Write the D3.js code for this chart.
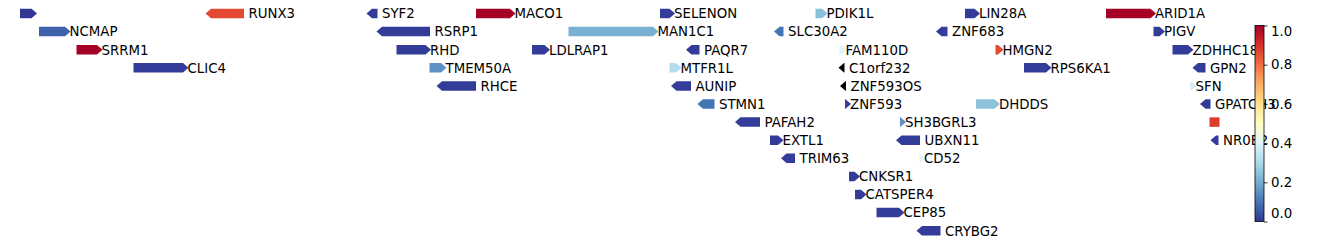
<!DOCTYPE html>
<html>
<head>
<meta charset="utf-8">
<script src="https://cdn.jsdelivr.net/npm/d3@7"></script>
<style>
  body { margin: 0; background: #fff; }
  svg { display: block; font-family: "DejaVu Sans", sans-serif; }
</style>
</head>
<body>
<div id="chart"></div>
<script>
// chr1 positions in kb, strand 1 = forward, -1 = reverse, 0 = none
const geneNames = [
  "", "RUNX3", "SYF2", "MACO1", "SELENON", "PDIK1L", "LIN28A", "ARID1A",
  "NCMAP", "RSRP1", "MAN1C1", "SLC30A2", "ZNF683", "PIGV",
  "SRRM1", "RHD", "LDLRAP1", "PAQR7", "FAM110D", "HMGN2", "ZDHHC18",
  "CLIC4", "TMEM50A", "MTFR1L", "C1orf232", "RPS6KA1", "GPN2",
  "RHCE", "AUNIP", "ZNF593OS", "SFN",
  "STMN1", "ZNF593", "DHDDS", "GPATCH3",
  "PAFAH2", "SH3BGRL3", "",
  "EXTL1", "UBXN11", "NR0B2",
  "TRIM63", "CD52",
  "CNKSR1", "CATSPER4", "CEP85", "CRYBG2"
];
const geneStarts = [
  24490, 24872, 25194, 25402, 25770, 26081, 26380, 26662,
  24528, 25214, 25587, 26009, 26333, 26757,
  24603, 25243, 25514, 25833, 26129, 26441, 26795,
  24717, 25309, 25789, 26138, 26498, 26846,
  25334, 25803, 26141, 26831,
  25856, 26140, 26402, 26861,
  25931, 26250, 26869,
  25990, 26253, 26882,
  26023, 26289,
  26148, 26160, 26203, 26294
];
const geneEnds = [
  24513, 24938, 25205, 25470, 25789, 26094, 26399, 26751,
  24580, 25310, 25756, 26017, 26345, 26769,
  24644, 25301, 25539, 25849, 26132, 26446, 26826,
  24816, 25332, 25802, 26139, 26542, 26861,
  25402, 25832, 26142, 26832,
  25879, 26141, 26439, 26871,
  25970, 26251, 26889,
  26006, 26290, 26887,
  26040, 26289,
  26159, 26172, 26248, 26331
];
const geneStrands = [
  1, -1, -1, 1, 1, 1, 1, 1,
  1, -1, 1, -1, -1, 1,
  1, 1, 1, -1, 1, 1, 1,
  1, 1, 1, -1, 1, -1,
  -1, -1, -1, 1,
  -1, 1, 1, -1,
  -1, 1, 0,
  1, -1, -1,
  -1, 1,
  1, 1, 1, -1
];
const geneRows = [
  0, 0, 0, 0, 0, 0, 0, 0,
  1, 1, 1, 1, 1, 1,
  2, 2, 2, 2, 2, 2, 2,
  3, 3, 3, 3, 3, 3,
  4, 4, 4, 4,
  5, 5, 5, 5,
  6, 6, 6,
  7, 7, 7,
  8, 8,
  9, 10, 11, 12
];
// null = no value (drawn black)
const geneValues = [
  0.0, 0.86, 0.01, 1.0, 0.01, 0.24, 0.01, 1.0,
  0.07, 0.01, 0.21, 0.1, 0.01, 0.01,
  1.0, 0.01, 0.01, 0.01, 0.4, 0.86, 0.01,
  0.01, 0.15, 0.31, null, 0.01, 0.01,
  0.01, 0.01, null, 0.37,
  0.1, 0.01, 0.25, 0.01,
  0.01, 0.15, 0.88,
  0.01, 0.01, 0.01,
  0.01, 0.4,
  0.01, 0.01, 0.01, 0.01
];
const cbarTicks = [0.0, 0.2, 0.4, 0.6, 0.8, 1.0];
const cmapColors = [
  "#313695", "#4575b4", "#74add1", "#abd9e9", "#e0f3f8", "#ffffbf",
  "#fee090", "#fdae61", "#f46d43", "#d73027", "#a50026"
];

const w = 1338;
const h = 246;
const head = 5.5;
const barH = 9.5;

const genes = geneNames.map((name, i) => ({
  name: name,
  start: geneStarts[i],
  end: geneEnds[i],
  strand: geneStrands[i],
  row: geneRows[i],
  value: geneValues[i]
}));

const x = d3.scaleLinear().domain([24450, 27126]).range([0, w]);
const y = d3.scaleLinear().domain([0, 12]).range([13.5, 230.7]);
const cmap = d3
  .scaleLinear()
  .domain(d3.range(cmapColors.length).map((i) => i / (cmapColors.length - 1)))
  .range(cmapColors)
  .clamp(true);
const color = (v) => (v === null ? "#000" : cmap(v));

const svg = d3
  .select("#chart")
  .append("svg")
  .attr("width", w)
  .attr("height", h);

const genePath = (d) => {
  const x0 = x(d.start);
  const x1 = x(d.end);
  const cy = y(d.row);
  const t = cy - barH / 2;
  const b = cy + barH / 2;
  let pts;
  if (d.strand === 1) {
    pts = [[x0, t], [x1, t], [x1 + head, cy], [x1, b], [x0, b]];
  } else if (d.strand === -1) {
    pts = [[x1, t], [x0, t], [x0 - head, cy], [x0, b], [x1, b]];
  } else {
    pts = [[x0, t], [x1, t], [x1, b], [x0, b]];
  }
  return "M" + pts.map((p) => p.join(",")).join("L") + "Z";
};

svg
  .selectAll("path.gene")
  .data(genes)
  .enter()
  .append("path")
  .attr("class", "gene")
  .attr("d", genePath)
  .attr("fill", (d) => color(d.value));

svg
  .selectAll("text.gene")
  .data(genes.filter((d) => d.name !== "" && d.strand !== 0))
  .enter()
  .append("text")
  .attr("class", "gene")
  .attr("x", (d) => x(d.end) + head - 1)
  .attr("y", (d) => y(d.row) + 4.8)
  .attr("font-size", "13.33px")
  .attr("fill", "#000")
  .text((d) => d.name);

// colorbar
const cbX = 1255;
const cbW = 9;
const cy = d3.scaleLinear().domain([0, 1]).range([221.5, 25.5]);

const grad = svg
  .append("defs")
  .append("linearGradient")
  .attr("id", "cbar")
  .attr("x1", 0)
  .attr("y1", 1)
  .attr("x2", 0)
  .attr("y2", 0);

grad
  .selectAll("stop")
  .data(d3.range(0, 1.0001, 0.01))
  .enter()
  .append("stop")
  .attr("offset", (d) => d)
  .attr("stop-color", (d) => color(d));

svg
  .append("rect")
  .attr("x", cbX)
  .attr("y", cy(1))
  .attr("width", cbW)
  .attr("height", cy(0) - cy(1))
  .attr("fill", "url(#cbar)")
  .attr("stroke", "#000")
  .attr("stroke-width", 0.8);

const cbAxis = d3
  .axisRight(cy)
  .tickValues(cbarTicks)
  .tickSize(3.5)
  .tickPadding(3.5)
  .tickFormat(d3.format(".1f"));

const ax = svg
  .append("g")
  .attr("transform", `translate(${cbX + cbW},0)`)
  .call(cbAxis);

ax.select(".domain").remove();
ax.selectAll("line").attr("stroke", "#000").attr("stroke-width", 0.8);
ax.selectAll("text")
  .attr("font-size", "13.33px")
  .attr("font-family", "DejaVu Sans, sans-serif")
  .attr("fill", "#000")
  .attr("transform", (d) => (d === 1 ? "translate(0,5.5)" : d === 0 ? "translate(0,-8)" : null));
</script>
</body>
</html>
